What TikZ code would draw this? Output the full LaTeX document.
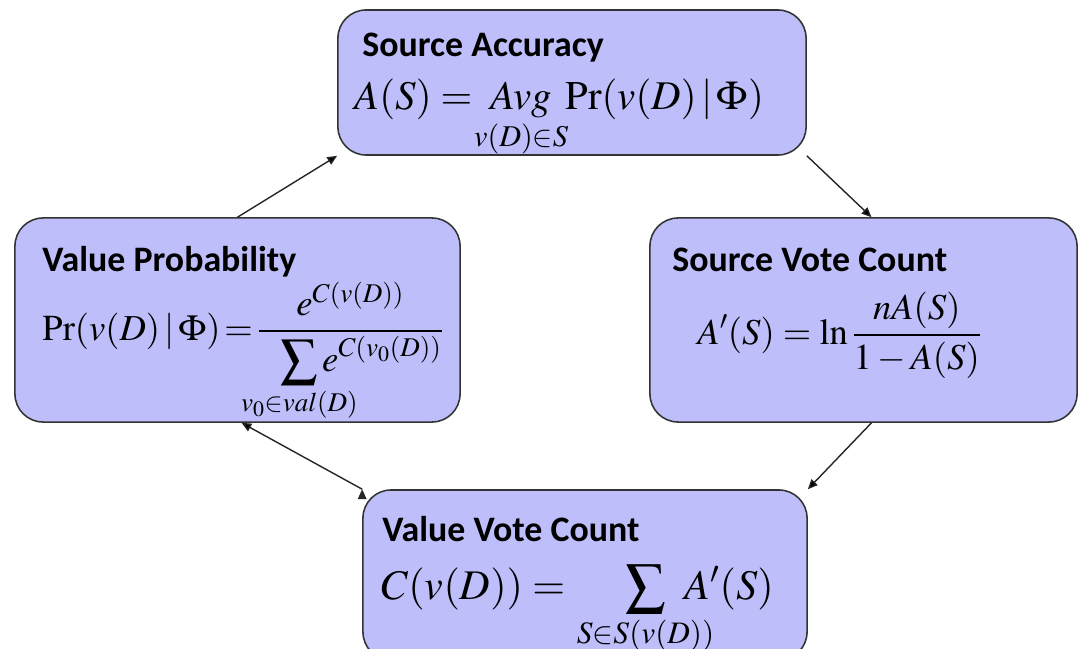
\documentclass[tikz,border=0pt]{standalone}
\usepackage{amsmath,mathtools}
\usepackage{mathptmx}
\usepackage{graphicx}
\usepackage[no-math]{fontspec}
\newfontfamily\titlefont{Carlito}
\usepackage{tikz}
\usetikzlibrary{positioning,arrows.meta}

\definecolor{boxblue}{RGB}{190,190,250}
\newcommand{\bigsum}{\mathop{\vcenter{\hbox{\scalebox{1.35}{$\sum$}}}}}

\begin{document}
\begin{tikzpicture}[x=0.025cm,y=-0.025cm,>={Triangle[length=7pt,width=6pt]},
                    main node/.style={rectangle,draw=black!80,line width=1.1pt,
                    fill=boxblue,rounded corners=20pt,inner sep=0pt},
                    title text/.style={anchor=base west,inner sep=0pt,
                    font=\titlefont\bfseries\fontsize{25.5}{30}\selectfont},
                    formula/.style={anchor=base west,inner sep=0pt}]

\clip (0,0) rectangle (1080,649);

\node[main node,minimum width=11.7cm,minimum height=3.625cm] (A) at (572,82.5) {};
\node[main node,minimum width=11.125cm,minimum height=5.1cm] (P) at (237.5,320) {};
\node[main node,minimum width=10.675cm,minimum height=5.1cm] (S) at (863.5,320) {};
\node[main node,minimum width=11.1cm,minimum height=4.25cm] (V) at (585,575) {};

% titles
\node[title text] (At) at ([shift={(25,47)}]A.north west) {Source Accuracy};
\node[title text] (Pt) at ([shift={(28,54)}]P.north west) {Value Probability};
\node[title text] (St) at ([shift={(23,54)}]S.north west) {Source Vote Count};
\node[title text] (Vt) at ([shift={(20,52)}]V.north west) {Value Vote Count};

% formulas
\node[formula,font=\fontsize{29}{35}\selectfont] (Af) at ([shift={(17,100)}]A.north west)
    {$\displaystyle A(S) = \;\mathop{Avg}\limits_{\mathclap{v(D)\in S}}\; \Pr(v(D)\,|\,\Phi)$};
\node[formula,font=\fontsize{26}{31}\selectfont] (Pf) at ([shift={(28,123)}]P.north west)
    {$\displaystyle \Pr(v(D)\,|\,\Phi) \mathrel{\!=\!} \frac{e^{C(v(D))}}{\hspace{0.6em}\displaystyle\sum\limits_{\mathclap{v_0\in val(D)}} e^{C(v_0(D))}}$};
\node[formula,font=\fontsize{26}{31}\selectfont] (Sf) at ([shift={(48,127)}]S.north west)
    {$\displaystyle A'(S) = \ln\frac{nA(S)}{1-A(S)}$};
\node[formula,font=\fontsize{30}{36}\selectfont] (Vf) at ([shift={(19,110)}]V.north west)
    {$C(v(D)) = \hspace{1.2em}\bigsum\limits_{\mathclap{S\in S(v(D))}}\mkern6mu A'(S)$};

\path[->,line width=1pt,draw=black!85]
    (P.north) edge (A.south west)
    (A.south east) edge ([xshift=0.2cm]S.north)
    ([xshift=0.2cm]S.south) edge (V.north east)
    (V.north west) edge ([xshift=0.1cm]P.south);

\end{tikzpicture}
\end{document}
